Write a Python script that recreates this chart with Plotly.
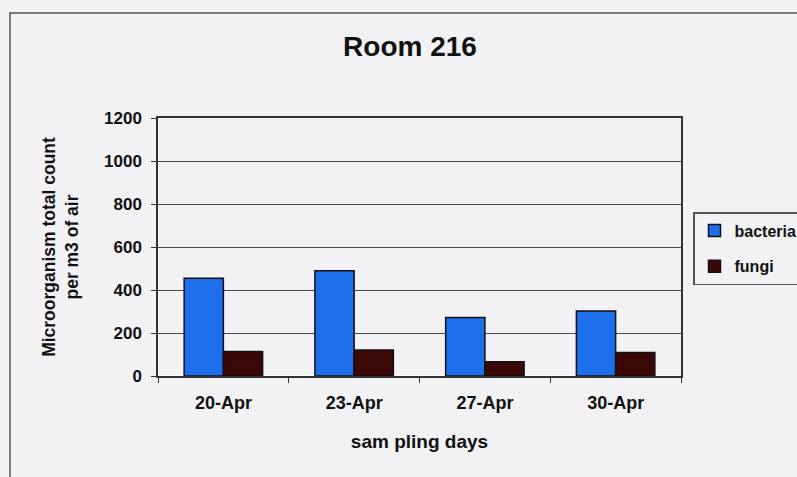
import plotly.graph_objects as go

days = ["20-Apr", "23-Apr", "27-Apr", "30-Apr"]
bacteria = [455, 490, 272, 302]
fungi = [114, 121, 66, 109]
y_ticks = [0, 200, 400, 600, 800, 1000, 1200]

W, H = 797, 477
L, R, T, B = 158, 116, 118, 101
PW, PH = W - L - R, H - T - B

fig = go.Figure()
fig.add_trace(go.Bar(name="bacteria", x=days, y=bacteria, legendgroup="b",
                     marker=dict(color="#1e6fec", line=dict(color="#111111", width=1.5))))
fig.add_trace(go.Bar(name="fungi", x=days, y=fungi, legendgroup="f",
                     marker=dict(color="#3a0806", line=dict(color="#111111", width=1.5))))

font_family = "Liberation Sans, Arial, sans-serif"
bg = "#f2f2f5"
ink = "#111111"

fig.update_layout(
    width=W, height=H,
    margin=dict(l=L, r=R, t=T, b=B, autoexpand=False),
    paper_bgcolor=bg,
    plot_bgcolor=bg,
    barmode="group",
    bargap=0.4,
    bargroupgap=0,
    font=dict(family=font_family, color=ink),
    title=dict(text="<b>Room 216</b>", x=410 / W, xanchor="center",
               y=1 - 46 / H, yanchor="middle",
               font=dict(size=28, color=ink, family=font_family)),
    showlegend=True,
    legend=dict(x=(693 - L) / PW, xanchor="left", y=(H - 212 - B) / PH, yanchor="top",
                bgcolor=bg, bordercolor="#555555", borderwidth=1.5,
                font=dict(size=16, color=ink, family=font_family, weight="bold"),
                itemwidth=30, traceorder="grouped", tracegroupgap=12),
    xaxis=dict(
        showline=True, linecolor="#333333", linewidth=1.5, mirror=True,
        ticks="outside", tickson="boundaries", ticklen=5, tickcolor="#333333",
        tickfont=dict(size=18, color=ink, weight="bold"),
        ticklabelstandoff=10,
        title=dict(text="sam pling days", font=dict(size=19, color=ink, weight="bold"), standoff=22),
    ),
    yaxis=dict(
        range=[0, 1200], tickvals=y_ticks,
        showline=True, linecolor="#333333", linewidth=1.5, mirror=True,
        showgrid=True, gridcolor="#4a4a4a", gridwidth=1.3,
        ticks="outside", ticklen=5, tickcolor="#333333",
        tickfont=dict(size=17, color=ink, weight="bold"),
        ticklabelstandoff=6,
        title=dict(text="Microorganism total count<br>per m3 of air",
                   font=dict(size=17.5, color=ink, weight="bold"), standoff=21),
    ),
)

# outer chart border
fig.add_shape(type="rect", xref="paper", yref="paper",
              x0=(10 - L) / PW, x1=(W + 5 - L) / PW,
              y0=-(B + 5) / PH, y1=(H - 13 - B) / PH,
              line=dict(color="#555555", width=1.5), layer="below")

fig.write_html("out.html", config={"displayModeBar": False},
               post_script="document.body.style.margin='0px';")
